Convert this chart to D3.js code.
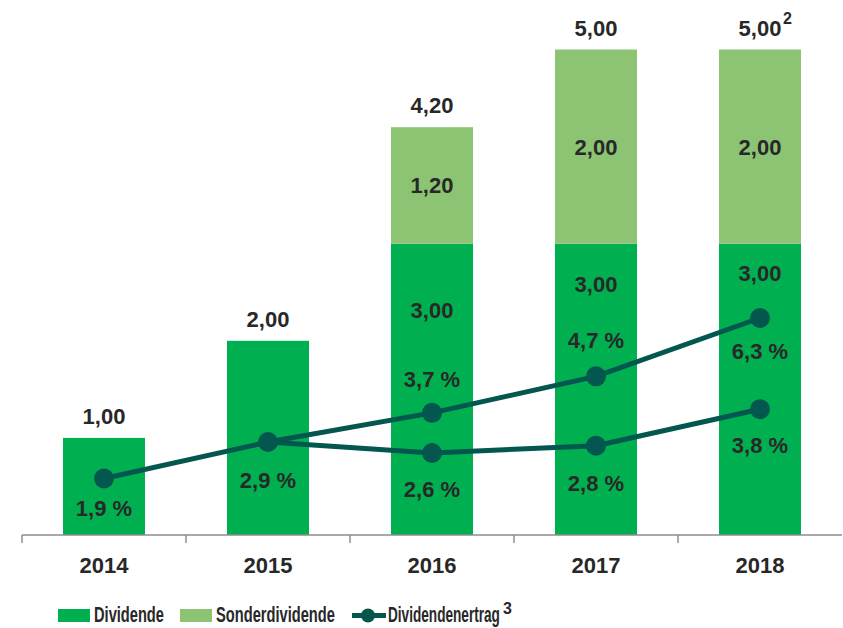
<!DOCTYPE html>
<html>
<head>
<meta charset="utf-8">
<script src="https://cdn.jsdelivr.net/npm/d3@7"></script>
<style>
  body { margin: 0; background: #fff; }
  text { font-family: "Liberation Sans", Arial, sans-serif; font-weight: bold; fill: #282828; }
</style>
</head>
<body>
<div id="chart"></div>
<script>
var width = 843,
    height = 628;

// data
var years = ['2014', '2015', '2016', '2017', '2018'];
var dividende = [1.00, 2.00, 3.00, 3.00, 3.00];
var sonder = [0, 0, 1.20, 2.00, 2.00];
var totalLabels = ['1,00', '2,00', '4,20', '5,00', '5,00'];
var yieldA = [1.9, 2.9, 3.7, 4.7, 6.3];        // upper line
var yieldB = [null, 2.9, 2.6, 2.8, 3.8];       // lower line
var legendNames = ['Dividende', 'Sonderdividende', 'Dividendenertrag'];

// layout tweaks
var innerLabelShift = [0, 0, 66, 40, 29];      // px below the top of the dark segment
var labelA = [29, 38, -34, -36, 33];            // offsets of % labels from the points
var labelB = [0, 0, 36, 37, 36];

var colDiv = '#00b050',
    colSonder = '#8cc474',
    colLine = '#03574f';

var fmt = function(v) { return v.toFixed(2).replace('.', ','); };
var fmtPct = function(v) { return v.toFixed(1).replace('.', ',') + ' %'; };

var x = d3.scaleBand()
    .domain(years)
    .range([22, 842])
    .paddingInner(0.5)
    .paddingOuter(0.25);

var xAxisScale = d3.scaleBand().domain(years).range([22, 842]);

var y = d3.scaleLinear()
    .domain([0, 5])
    .range([535, 49.5]);

var yPct = d3.scaleLinear()
    .domain([1.9, 6.3])
    .range([478.5, 318]);

var svg = d3.select('#chart').append('svg')
    .attr('width', width)
    .attr('height', height);

// bars
var g = svg.append('g');

g.selectAll('rect.div')
    .data(years)
    .enter().append('rect')
    .attr('class', 'div')
    .attr('x', function(d) { return x(d); })
    .attr('width', x.bandwidth())
    .attr('y', function(d, i) { return y(dividende[i]); })
    .attr('height', function(d, i) { return y(0) - y(dividende[i]); })
    .attr('fill', colDiv);

g.selectAll('rect.sonder')
    .data(years.filter(function(d, i) { return sonder[i] > 0; }))
    .enter().append('rect')
    .attr('class', 'sonder')
    .attr('x', function(d) { return x(d); })
    .attr('width', x.bandwidth())
    .attr('y', function(d) { var i = years.indexOf(d); return y(dividende[i] + sonder[i]); })
    .attr('height', function(d) { var i = years.indexOf(d); return y(dividende[i]) - y(dividende[i] + sonder[i]); })
    .attr('fill', colSonder);

// x axis
var axis = svg.append('g')
    .attr('transform', 'translate(0,' + y(0) + ')');
axis.append('line')
    .attr('x1', 22).attr('x2', 842)
    .attr('stroke', '#8c8c8c').attr('stroke-width', 1.5);
axis.selectAll('line.tick')
    .data(years)
    .enter().append('line')
    .attr('x1', function(d) { return xAxisScale(d); })
    .attr('x2', function(d) { return xAxisScale(d); })
    .attr('y1', 0).attr('y2', 8)
    .attr('stroke', '#8c8c8c').attr('stroke-width', 1.5);
axis.selectAll('text')
    .data(years)
    .enter().append('text')
    .attr('x', function(d) { return x(d) + x.bandwidth() / 2; })
    .attr('y', 38)
    .attr('text-anchor', 'middle')
    .style('font-size', '22px')
    .text(function(d) { return d; });

// total labels
g.selectAll('text.total')
    .data(years)
    .enter().append('text')
    .attr('class', 'total')
    .attr('x', function(d) { return x(d) + x.bandwidth() / 2; })
    .attr('y', function(d, i) { return y(dividende[i] + sonder[i]) - 14; })
    .attr('text-anchor', 'middle')
    .style('font-size', '22px')
    .text(function(d, i) { return totalLabels[i]; });

// superscript 2 on 2018
g.append('text')
    .attr('x', x('2018') + x.bandwidth() / 2 + 23)
    .attr('y', y(5) - 26)
    .style('font-size', '16px')
    .text('2');

// inner labels (sonder)
g.selectAll('text.sonderLbl')
    .data(years.filter(function(d, i) { return sonder[i] > 0; }))
    .enter().append('text')
    .attr('class', 'sonderLbl')
    .attr('x', function(d) { return x(d) + x.bandwidth() / 2; })
    .attr('y', function(d) { var i = years.indexOf(d); return (y(dividende[i]) + y(dividende[i] + sonder[i])) / 2 + 8; })
    .attr('text-anchor', 'middle')
    .style('font-size', '22px')
    .text(function(d) { return fmt(sonder[years.indexOf(d)]); });

// inner labels (dividende) where there is a sonder part
g.selectAll('text.divLbl')
    .data(years.filter(function(d, i) { return sonder[i] > 0; }))
    .enter().append('text')
    .attr('class', 'divLbl')
    .attr('x', function(d) { return x(d) + x.bandwidth() / 2; })
    .attr('y', function(d) { var i = years.indexOf(d); return y(dividende[i]) + innerLabelShift[i] + 8; })
    .attr('text-anchor', 'middle')
    .style('font-size', '22px')
    .text(function(d) { return fmt(dividende[years.indexOf(d)]); });

// lines
var line = d3.line()
    .defined(function(d) { return d.v != null; })
    .x(function(d) { return x(d.year) + x.bandwidth() / 2; })
    .y(function(d) { return yPct(d.v); });

function series(arr, offs) {
    return years.map(function(yr, i) { return { year: yr, v: arr[i], off: offs[i] }; });
}

[series(yieldA, labelA), series(yieldB, labelB)].forEach(function(s, k) {
    svg.append('path')
        .datum(s)
        .attr('d', line)
        .attr('fill', 'none')
        .attr('stroke', colLine)
        .attr('stroke-width', 5);

    var pts = s.filter(function(d) { return d.v != null && !(k === 1 && d.year === '2015'); });
    svg.selectAll('circle.p' + k)
        .data(pts)
        .enter().append('circle')
        .attr('class', 'p' + k)
        .attr('cx', function(d) { return x(d.year) + x.bandwidth() / 2; })
        .attr('cy', function(d) { return yPct(d.v); })
        .attr('r', 10)
        .attr('fill', colLine);

    svg.selectAll('text.l' + k)
        .data(pts)
        .enter().append('text')
        .attr('class', 'l' + k)
        .attr('x', function(d) { return x(d.year) + x.bandwidth() / 2; })
        .attr('y', function(d) { return yPct(d.v) + d.off + 8; })
        .attr('text-anchor', 'middle')
        .style('font-size', '22px')
        .text(function(d) { return fmtPct(d.v); });
});

// legend - no narrow font installed, so squeeze horizontally to the target width
var legend = svg.append('g').attr('class', 'legend');
function legendText(name, x0, w) {
    var t = legend.append('g')
        .append('text')
        .style('font-size', '22px')
        .text(name);
    var len = t.node().getComputedTextLength();
    d3.select(t.node().parentNode)
        .attr('transform', 'translate(' + x0 + ',622) scale(' + (w / len) + ',1)');
}
legend.append('rect').attr('x', 58).attr('y', 609).attr('width', 32).attr('height', 13).attr('fill', colDiv);
legendText(legendNames[0], 94, 70);
legend.append('rect').attr('x', 180).attr('y', 609).attr('width', 32).attr('height', 13).attr('fill', colSonder);
legendText(legendNames[1], 216, 119);
legend.append('line').attr('x1', 352).attr('x2', 386).attr('y1', 615.5).attr('y2', 615.5)
    .attr('stroke', colLine).attr('stroke-width', 5);
legend.append('circle').attr('cx', 368).attr('cy', 615.5).attr('r', 7).attr('fill', colLine);
legendText(legendNames[2], 388, 112);
legend.append('text').attr('x', 503).attr('y', 614).style('font-size', '16px').text('3');
</script>
</body>
</html>
